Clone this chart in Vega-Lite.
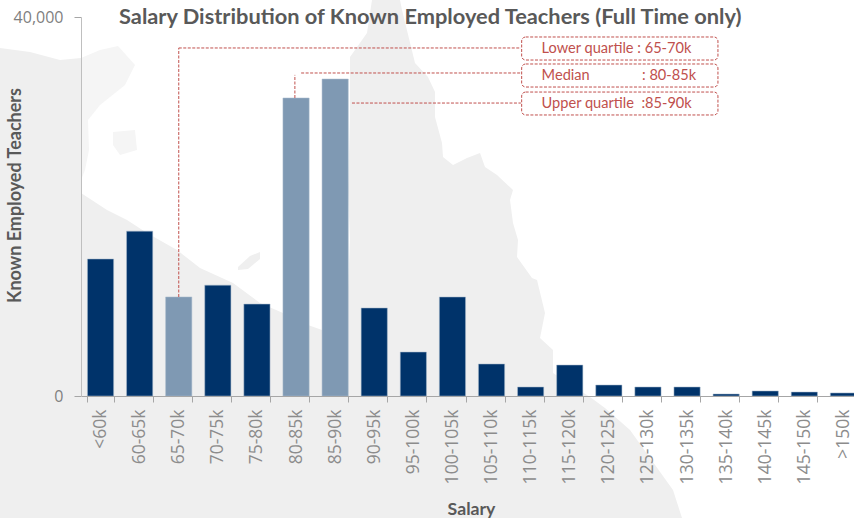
{"$schema":"https://vega.github.io/schema/vega-lite/v6.json","width":782,"height":379,"autosize":"none","padding":{"left":81,"top":17,"right":-9,"bottom":122},"background":"#ffffff","config":{"view":{"stroke":null},"font":"Open Sans"},"title":{"text":"Salary Distribution of Known Employed Teachers (Full Time only)","font":"Lato","fontSize":21.8,"fontWeight":"bold","color":"#595959","anchor":"start","frame":"group","dx":38,"dy":29,"offset":0},"datasets":{"salary":[{"band":"<60k","teachers":14460,"group":"other"},{"band":"60-65k","teachers":17400,"group":"other"},{"band":"65-70k","teachers":10450,"group":"quartile"},{"band":"70-75k","teachers":11700,"group":"other"},{"band":"75-80k","teachers":9700,"group":"other"},{"band":"80-85k","teachers":31450,"group":"quartile"},{"band":"85-90k","teachers":33450,"group":"quartile"},{"band":"90-95k","teachers":9290,"group":"other"},{"band":"95-100k","teachers":4640,"group":"other"},{"band":"100-105k","teachers":10450,"group":"other"},{"band":"105-110k","teachers":3380,"group":"other"},{"band":"110-115k","teachers":950,"group":"other"},{"band":"115-120k","teachers":3270,"group":"other"},{"band":"120-125k","teachers":1160,"group":"other"},{"band":"125-130k","teachers":950,"group":"other"},{"band":"130-135k","teachers":950,"group":"other"},{"band":"135-140k","teachers":210,"group":"other"},{"band":"140-145k","teachers":530,"group":"other"},{"band":"145-150k","teachers":420,"group":"other"},{"band":">150k","teachers":320,"group":"other"}],"connectors":[{"a":2.5,"b":2.5,"low":10450,"high":36730},{"a":2.5,"b":11.25,"low":36730,"high":36730},{"a":5.47,"b":5.47,"low":31450,"high":33890},{"a":5.63,"b":11.25,"low":34090,"high":34090},{"a":6.93,"b":11.25,"low":30920,"high":30920}],"callouts":[{"label":"Lower quartile : 65-70k","a":11.27,"b":16.29,"textAt":11.78,"low":35460,"high":37890,"mid":36620},{"label":"Median\u00a0\u00a0\u00a0\u00a0\u00a0\u00a0\u00a0\u00a0\u00a0\u00a0\u00a0\u00a0\u00a0\u00a0: 80-85k","a":11.27,"b":16.29,"textAt":11.78,"low":32610,"high":35040,"mid":33800},{"label":"Upper quartile\u00a0 :85-90k","a":11.27,"b":16.29,"textAt":11.78,"low":29660,"high":32080,"mid":30850}]},"layer":[{"data":{"values":{"type":"FeatureCollection","features":[{"type":"Feature","properties":{"name":"land"},"geometry":{"type":"Polygon","coordinates":[[[100,-4.8],[103,-5.2],[106,-6],[108.1,-5.8],[108.1,-19.3],[110.7,-21],[112.7,-22],[114.7,-23.3],[117.7,-25],[120,-26.8],[123.3,-28.3],[126,-30.3],[128.3,-31.3],[130.8,-32.5],[132.2,-33],[134,-32],[134.8,-29],[135,-24],[134.8,-19],[135,-12],[135,-5.7],[136.7,-3.3],[137.2,0],[140,0],[140.2,-1],[141.5,-6.3],[142.8,-7.7],[143.5,-9.2],[143.5,-11.7],[144.2,-14.3],[144.3,-15.7],[145.3,-16.5],[146.7,-15.8],[148,-15.3],[148.5,-16.7],[149.7,-17.5],[151.3,-19],[151,-20],[151.3,-22.3],[151.8,-24],[151.7,-25.7],[153.2,-27.8],[153.7,-28],[154.5,-31.3],[154,-33.8],[155.3,-35],[155.3,-37.3],[159,-39.7],[160.5,-40.8],[163,-43],[167.3,-49],[168.2,-51.8],[100,-51.8],[100,-4.8]]]}},{"type":"Feature","properties":{"name":"Mornington"},"geometry":{"type":"Polygon","coordinates":[[[123.8,-26.7],[125,-25.6],[126,-25.2],[126,-25.9],[124.8,-26.9],[123.8,-27],[123.8,-26.7]]]}}]},"format":{"type":"json","property":"features"}},"mark":{"type":"geoshape","fill":"#efefef","stroke":null,"clip":false},"projection":{"type":"identity","reflectY":true,"scale":10,"translate":[-1081,-17]}},{"data":{"values":{"type":"FeatureCollection","features":[{"type":"Feature","properties":{"name":"arnhem"},"geometry":{"type":"Polygon","coordinates":[[[108.1,-5.8],[110,-5],[111.8,-4.6],[113.5,-6.5],[112.5,-8.5],[110,-10.5],[108.8,-12],[108.9,-15],[108.5,-17],[108.1,-18],[108.1,-5.8]]]}},{"type":"Feature","properties":{"name":"groote"},"geometry":{"type":"Polygon","coordinates":[[[111.3,-13.2],[113.5,-13],[113.7,-15],[112,-15.5],[111.3,-14.5],[111.3,-13.2]]]}}]},"format":{"type":"json","property":"features"}},"mark":{"type":"geoshape","fill":"#f5f5f5","stroke":null,"clip":false},"projection":{"type":"identity","reflectY":true,"scale":10,"translate":[-1081,-17]}},{"data":{"name":"salary"},"mark":{"type":"bar","stroke":"#a9bbcd","strokeWidth":0.75,"strokeOpacity":0.7},"encoding":{"x":{"field":"band","type":"nominal","sort":null,"scale":{"paddingInner":0.33,"paddingOuter":0.165},"axis":{"zindex":1,"title":"Salary","titleFont":"Lato","titleFontSize":17.7,"titleFontWeight":"bold","titleColor":"#595959","titleX":390,"titleY":113,"titleBaseline":"middle","labelAngle":-90,"labelFont":"Open Sans","labelFontSize":17.5,"labelColor":"#8c8c8c","labelPadding":7,"tickSize":6,"tickColor":"#a6a6a6","tickBand":"extent","domainColor":"#a6a6a6","grid":false,"labelOverlap":false}},"y":{"field":"teachers","type":"quantitative","scale":{"domain":[0,40000],"nice":false},"axis":{"zindex":1,"title":"Known Employed Teachers","titleFont":"Lato","titleFontSize":18,"titleFontWeight":"bold","titleColor":"#595959","titleX":-66,"titleY":178,"titleBaseline":"middle","values":[0,40000],"format":",.0f","labelFont":"Open Sans","labelFontSize":16,"labelColor":"#7f7f7f","labelPadding":11,"tickSize":7,"tickColor":"#a6a6a6","domainColor":"#bfbfbf","grid":false}},"fill":{"field":"group","type":"nominal","legend":null,"scale":{"domain":["other","quartile"],"range":["#00336a","#7f99b3"]}}}},{"data":{"name":"connectors"},"mark":{"type":"rule","color":"#c0504d","strokeWidth":1,"strokeDash":[3,1.5]},"encoding":{"x":{"field":"a","type":"quantitative","scale":{"domain":[0,20],"nice":false,"zero":false},"axis":null},"x2":{"field":"b"},"y":{"field":"low","type":"quantitative","axis":null},"y2":{"field":"high"}}},{"data":{"name":"callouts"},"mark":{"type":"rect","fill":"#ffffff","fillOpacity":0,"stroke":"#c0504d","strokeWidth":1,"strokeDash":[3,1.5],"cornerRadius":4},"encoding":{"x":{"field":"a","type":"quantitative","scale":{"domain":[0,20],"nice":false,"zero":false},"axis":null},"x2":{"field":"b"},"y":{"field":"low","type":"quantitative","axis":null},"y2":{"field":"high"}}},{"data":{"name":"callouts"},"mark":{"type":"text","align":"left","baseline":"middle","font":"Lato","fontSize":14.6,"color":"#c0504d"},"encoding":{"x":{"field":"textAt","type":"quantitative","scale":{"domain":[0,20],"nice":false,"zero":false},"axis":null},"y":{"field":"mid","type":"quantitative","axis":null},"text":{"field":"label"}}}],"resolve":{"scale":{"x":"independent"},"axis":{"x":"independent","y":"independent"}}}
